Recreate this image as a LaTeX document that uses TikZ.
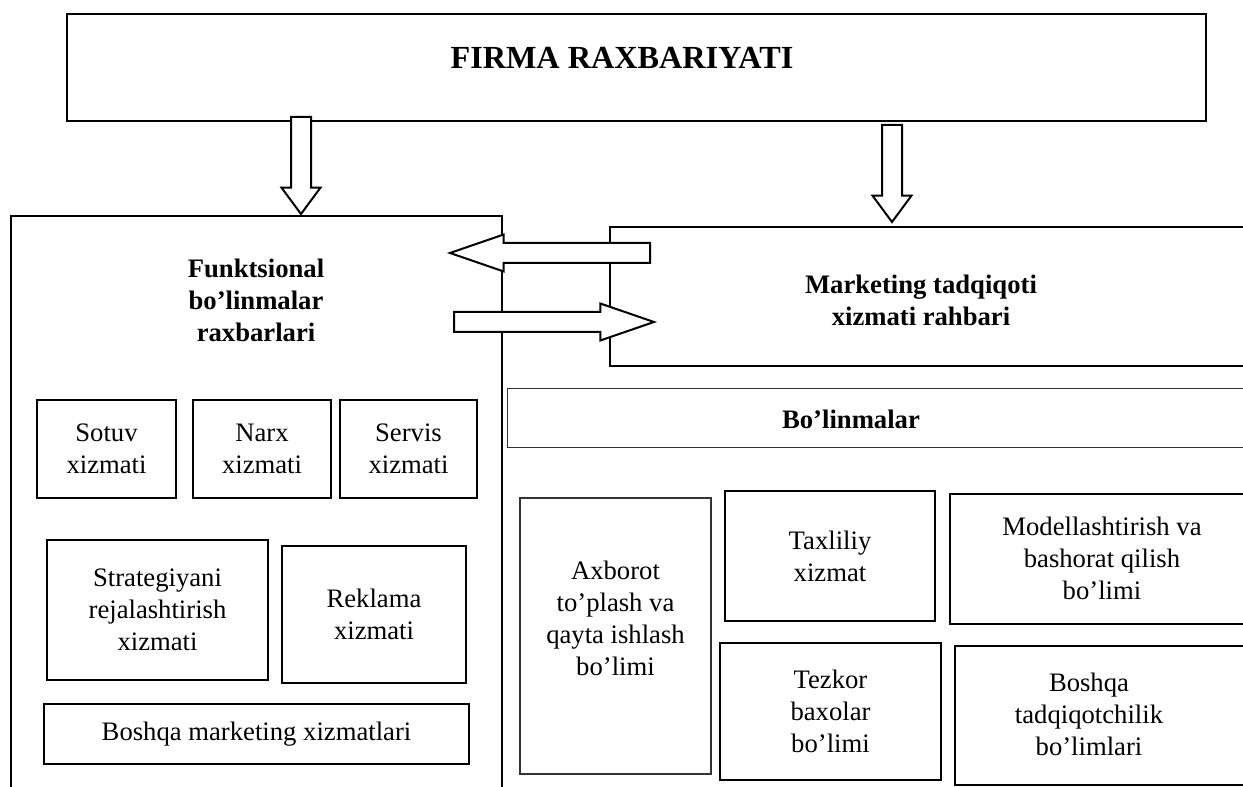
\documentclass[tikz,border=0pt]{standalone}
\usepackage{fontspec}
\setmainfont{Liberation Serif}
\usetikzlibrary{shapes.arrows,positioning}

\tikzset{
  box/.style={draw, line width=0.9pt, inner sep=0pt, align=center,
    font=\fontsize{12}{14.4}\selectfont},
  thinbox/.style={box, line width=0.6pt, draw=black!80},
  wh/.style 2 args={minimum width=#1*0.45pt, minimum height=#2*0.45pt},
  txt/.style={align=center, inner sep=0pt, font=\fontsize{12}{14.4}\selectfont},
  head/.style={txt, font=\bfseries\fontsize{12}{14.4}\selectfont},
  blockarrow/.style={single arrow, draw, fill=white, line width=0.9pt, inner sep=9*0.45pt},
  downarrow/.style={blockarrow, shape border rotate=270, anchor=tail,
    minimum height=97*0.45pt,
    single arrow head extend=9.5*0.45pt, single arrow tip angle=73},
  sidearrow/.style={blockarrow, anchor=tail,
    minimum height=200*0.45pt,
    single arrow head extend=8.5*0.45pt, single arrow tip angle=38},
}

\begin{document}
\begin{tikzpicture}[x=0.45pt, y=-0.45pt]
  \clip (0,0) rectangle (1243,787);

  % rahbariyat
  \node[box, wh={1139}{107}] (firma) at (636.5,67.5) {};
  \node[head, font=\bfseries\fontsize{14.5}{17}\selectfont] (firmaText) at (622,58) {FIRMA RAXBARIYATI};

  % chap tomon
  \node[box, anchor=north west, wh={491}{700}] (funk) at (10,215) {};
  \node[head] (funkText) at (256,300) {Funktsional\\bo’linmalar\\raxbarlari};

  \node[box, wh={139}{98}] (sotuv) at (106.5,449) {Sotuv\\xizmati};
  \node[box, wh={138}{98}] (narx) at (262,449) {Narx\\xizmati};
  \node[box, wh={137}{98}] (servis) at (408.5,449) {Servis\\xizmati};
  \node[box, wh={221}{140}] (strat) at (157.5,610) {Strategiyani\\rejalashtirish\\xizmati};
  \node[box, wh={184}{137}] (reklama) at (374,614.5) {Reklama\\xizmati};
  \node[box, wh={425}{60}] (boshqaM) at (256.5,734) {Boshqa marketing xizmatlari};

  % o'ng tomon
  \node[box, anchor=north west, wh={700}{139}] (mts) at (609,226) {};
  \node[head] (mtsText) at (921,300) {Marketing tadqiqoti\\xizmati rahbari};

  \node[thinbox, anchor=north west, wh={780}{59}] (bolin) at (507,388) {};
  \node[head] (bolinText) at (851,419) {Bo’linmalar};

  \node[thinbox, wh={191}{276}] (axborot) at (615.5,636) {};
  \node[txt] (axborotText) at (615.5,618) {Axborot\\to’plash va\\qayta ishlash\\bo’limi};
  \node[box, wh={210}{130}] (taxlil) at (830,556) {Taxliliy\\xizmat};
  \node[box, anchor=north west, wh={350}{130}] (model) at (949,493) {};
  \node[txt] (modelText) at (1102,558) {Modellashtirish va\\bashorat qilish\\bo’limi};
  \node[box, wh={221}{137}] (tezkor) at (830.5,711.5) {Tezkor\\baxolar\\bo’limi};
  \node[box, anchor=north west, wh={350}{139}] (boshqaT) at (954,645) {};
  \node[txt] (boshqaTText) at (1089,714.5) {Boshqa\\tadqiqotchilik\\bo’limlari};

  % strelkalar
  \node[downarrow] (a1) at (301,116) {};
  \node[downarrow] (a2) at (892,124) {};
  \node[sidearrow, shape border rotate=180] (a3) at (651,253) {};
  \node[sidearrow] (a4) at (453,322) {};
\end{tikzpicture}
\end{document}
